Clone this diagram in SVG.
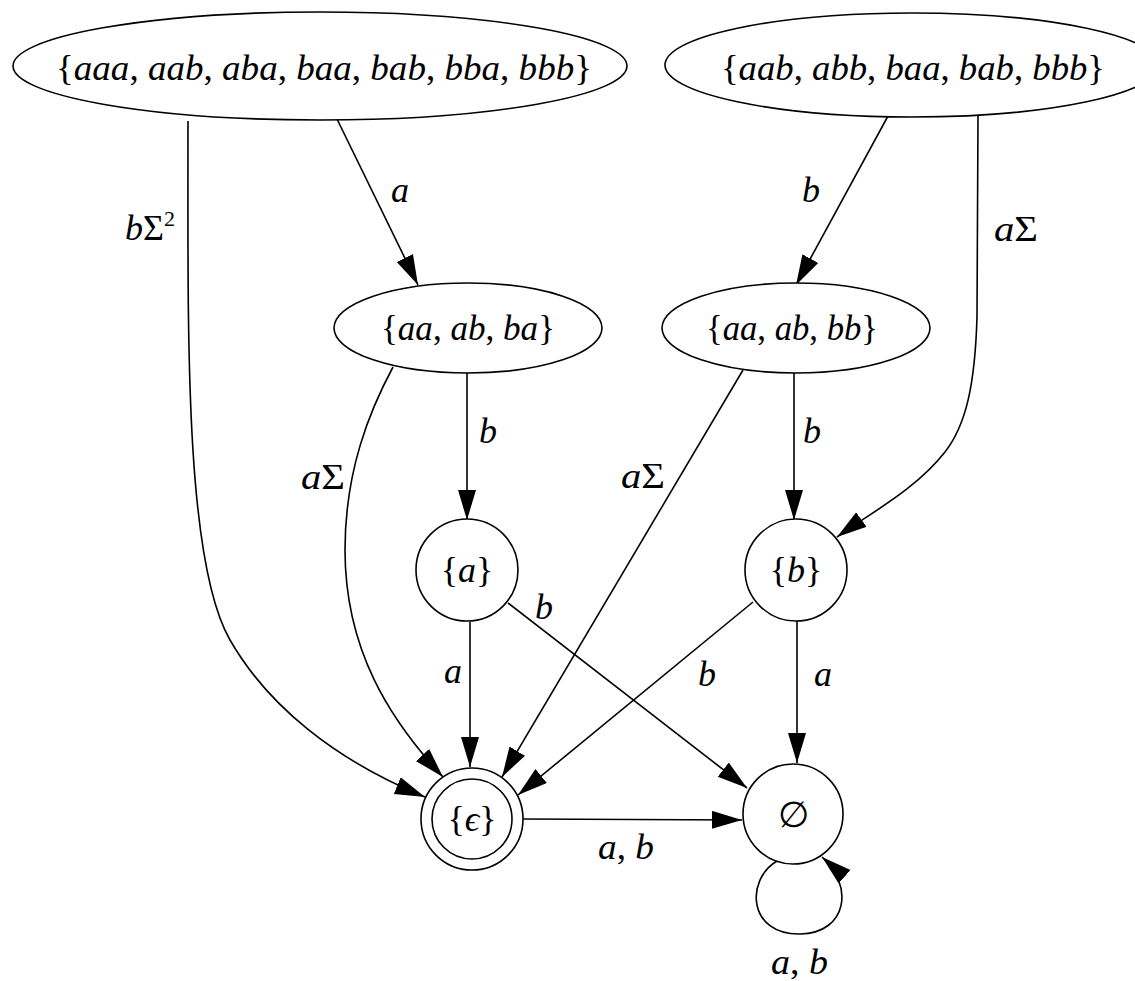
<svg xmlns="http://www.w3.org/2000/svg" width="1135" height="981" viewBox="0 0 1135 981">
<style>
  .n { fill: #fff; stroke: #000; stroke-width: 1.6; }
  .e { fill: none; stroke: #000; stroke-width: 1.6; marker-end: url(#ah); }
  .t { font-family: "Liberation Serif", "DejaVu Serif", serif; font-size: 36px; fill: #000; }
  .i { font-style: italic; }
  .lb { font-family: "Liberation Serif", "DejaVu Serif", serif; font-size: 36px; font-style: italic; fill: #000; }
  .up { font-style: normal; }
</style>
<defs>
  <marker id="ah" markerUnits="userSpaceOnUse" markerWidth="32" markerHeight="20" refX="30" refY="9" orient="auto">
    <path d="M0,0 L30,9 L0,18 z" fill="#000"/>
  </marker>
</defs>
<rect width="1135" height="981" fill="#fff"/>

<g id="connectors">
  <path class="e" d="M188,121 C188,330 184,560 230,640 C268,706 335,760 425,797"/>
  <path class="e" d="M337,119 L418,285"/>
  <path class="e" d="M888,116 L796,285"/>
  <path class="e" d="M978,116 L977,317 C975,385 966,425 945,452 C915,490 872,512 837,537"/>
  <path class="e" d="M467,373 L467,520"/>
  <path class="e" d="M393,367 C370,410 345,470 345,550 C345,650 390,720 443,777"/>
  <path class="e" d="M794,373 L794,520"/>
  <path class="e" d="M743,370 L502,777"/>
  <path class="e" d="M470,622 L470,767"/>
  <path class="e" d="M508,603 L747,788"/>
  <path class="e" d="M753,602 L518,795"/>
  <path class="e" d="M797,620 L797,763"/>
  <path class="e" d="M523,819 L742,820"/>
  <path class="e" d="M777,861 C745,880 748,935 800,934 C848,933 854,885 822,857"/>

  <text class="lb" x="400" y="202" text-anchor="middle">a</text>
  <text class="lb" x="811" y="202" text-anchor="middle">b</text>
  <text class="lb" x="125" y="240">b<tspan class="up">Σ</tspan><tspan class="up" font-size="22" dy="-14">2</tspan></text>
  <text class="lb" x="994" y="241" textLength="44" lengthAdjust="spacingAndGlyphs">a<tspan class="up">Σ</tspan></text>
  <text class="lb" x="301" y="489" textLength="44" lengthAdjust="spacingAndGlyphs">a<tspan class="up">Σ</tspan></text>
  <text class="lb" x="488" y="443" text-anchor="middle">b</text>
  <text class="lb" x="621" y="488" textLength="44" lengthAdjust="spacingAndGlyphs">a<tspan class="up">Σ</tspan></text>
  <text class="lb" x="812" y="443" text-anchor="middle">b</text>
  <text class="lb" x="453" y="683" text-anchor="middle">a</text>
  <text class="lb" x="544" y="619" text-anchor="middle">b</text>
  <text class="lb" x="707" y="686" text-anchor="middle">b</text>
  <text class="lb" x="823" y="686" text-anchor="middle">a</text>
  <text class="lb" x="598" y="859" textLength="56" lengthAdjust="spacingAndGlyphs">a<tspan class="up">,</tspan> b</text>
  <text class="lb" x="771" y="974" textLength="57" lengthAdjust="spacingAndGlyphs">a<tspan class="up">,</tspan> b</text>
</g>

<g id="n_top_left">
  <ellipse class="n" cx="320" cy="66" rx="307" ry="54"/>
  <text class="t" x="56" y="80" textLength="536" lengthAdjust="spacingAndGlyphs">{<tspan class="i">aaa</tspan>, <tspan class="i">aab</tspan>, <tspan class="i">aba</tspan>, <tspan class="i">baa</tspan>, <tspan class="i">bab</tspan>, <tspan class="i">bba</tspan>, <tspan class="i">bbb</tspan>}</text>
</g>
<g id="n_top_right">
  <ellipse class="n" cx="912" cy="65" rx="247" ry="52"/>
  <text class="t" x="721" y="80" textLength="384" lengthAdjust="spacingAndGlyphs">{<tspan class="i">aab</tspan>, <tspan class="i">abb</tspan>, <tspan class="i">baa</tspan>, <tspan class="i">bab</tspan>, <tspan class="i">bbb</tspan>}</text>
</g>
<g id="n_aa_ab_ba">
  <ellipse class="n" cx="468" cy="328" rx="134" ry="45"/>
  <text class="t" x="381" y="340" textLength="174" lengthAdjust="spacingAndGlyphs">{<tspan class="i">aa</tspan>, <tspan class="i">ab</tspan>, <tspan class="i">ba</tspan>}</text>
</g>
<g id="n_aa_ab_bb">
  <ellipse class="n" cx="796" cy="328" rx="134" ry="45"/>
  <text class="t" x="706" y="340" textLength="172" lengthAdjust="spacingAndGlyphs">{<tspan class="i">aa</tspan>, <tspan class="i">ab</tspan>, <tspan class="i">bb</tspan>}</text>
</g>
<g id="n_a">
  <circle class="n" cx="467" cy="570" r="51"/>
  <text class="t" x="467" y="582" text-anchor="middle">{<tspan class="i">a</tspan>}</text>
</g>
<g id="n_b">
  <circle class="n" cx="796" cy="570" r="51"/>
  <text class="t" x="796" y="582" text-anchor="middle">{<tspan class="i">b</tspan>}</text>
</g>
<g id="n_eps">
  <circle class="n" cx="472" cy="819" r="51"/>
  <circle class="n" cx="472" cy="819" r="40"/>
  <text class="t" x="472" y="831" text-anchor="middle">{<tspan class="i">ϵ</tspan>}</text>
</g>
<g id="n_empty">
  <circle class="n" cx="793" cy="814" r="50"/>
  <text class="t" x="793" y="827" text-anchor="middle">∅</text>
</g>
</svg>
